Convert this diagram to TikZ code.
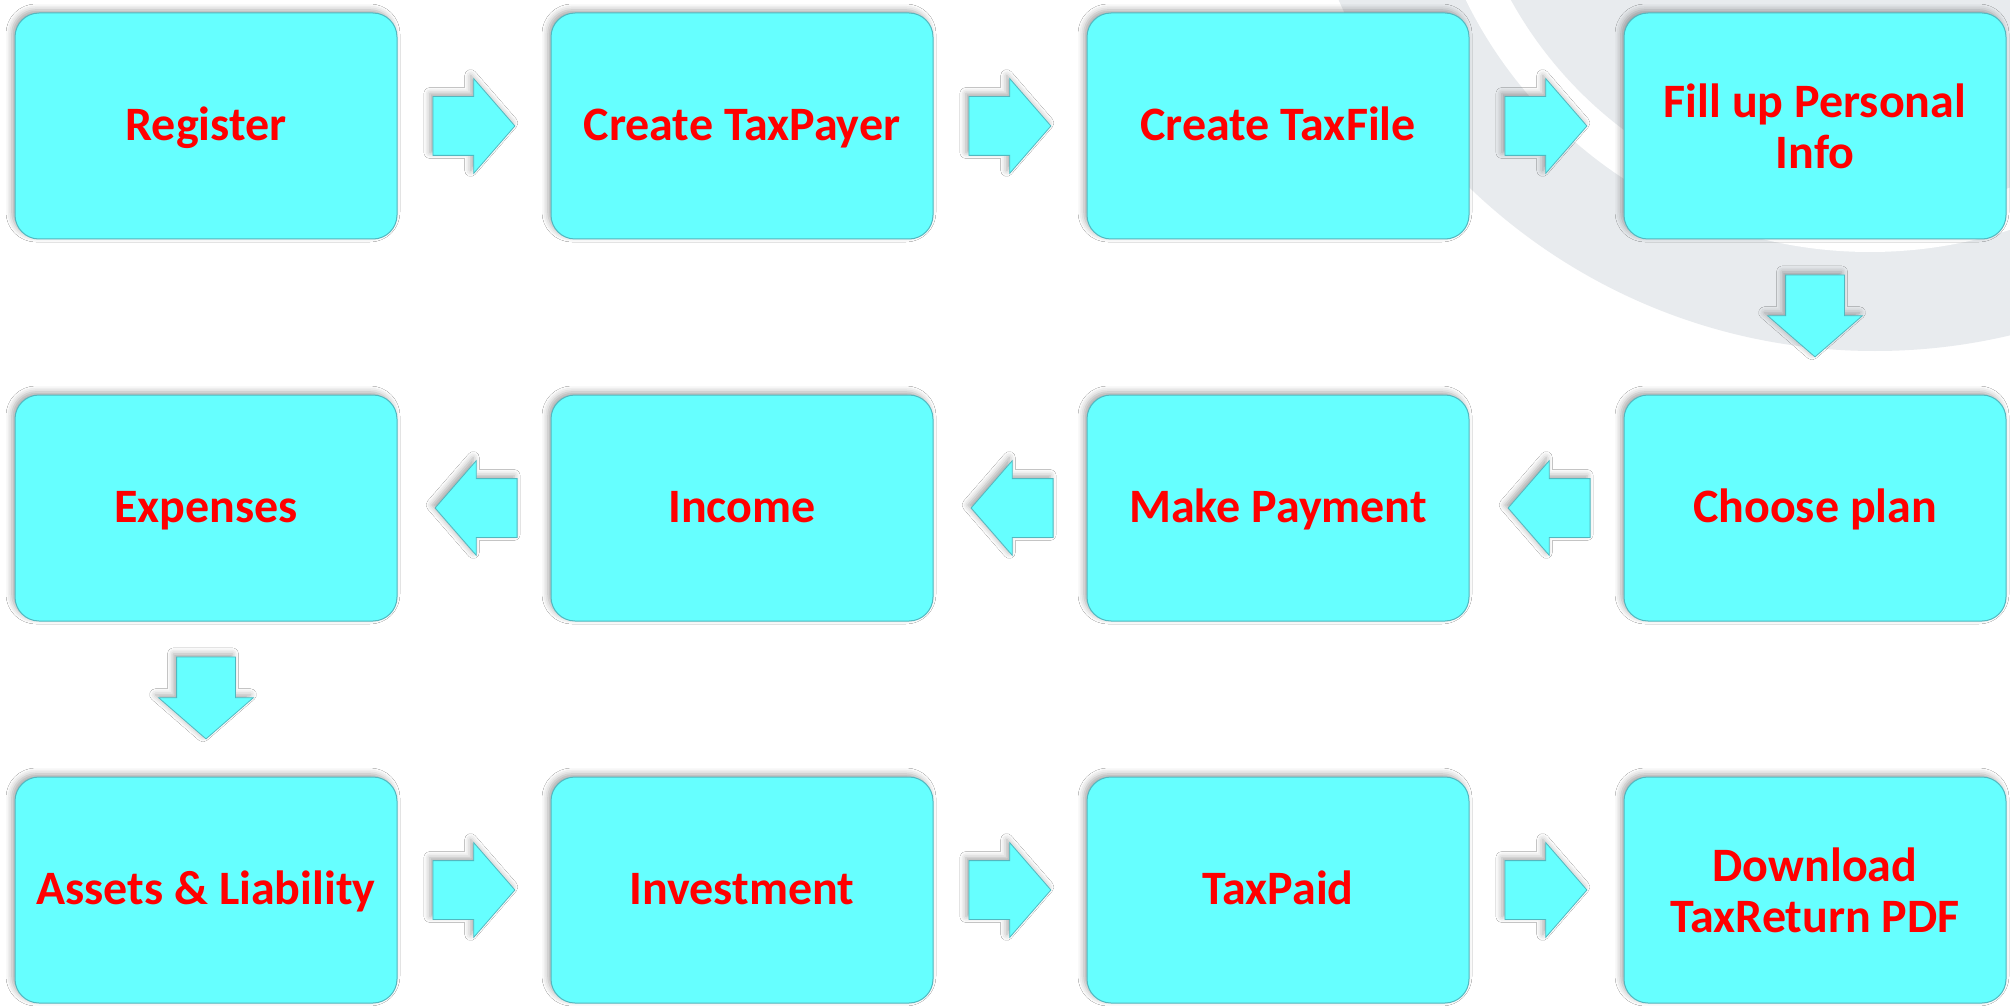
\documentclass[tikz,border=0pt]{standalone}
\usepackage{fontspec}
\setmainfont{Carlito}
\usetikzlibrary{shapes.arrows,shadows.blur,calc}
\definecolor{boxcyan}{HTML}{66FFFF}
\definecolor{boxline}{HTML}{52B8C0}
\definecolor{ringgrey}{HTML}{E8EBEE}
\definecolor{labelred}{HTML}{FF0000}
\tikzset{
  stepbox/.style={rectangle, rounded corners=12pt, fill=boxcyan, draw=boxline,
    line width=0.5pt, minimum width=191pt, minimum height=113pt, inner sep=0pt,
    align=center, text=labelred, font=\fontsize{24}{25.5}\selectfont\bfseries,
    blur shadow={shadow xshift=-1.5pt, shadow yshift=1.5pt, shadow blur radius=3pt, shadow opacity=35}},
  oneline/.style={text height=18pt, text depth=3.5pt},
  blockarrow/.style={single arrow, single arrow tip angle=98, single arrow head extend=9pt,
    minimum height=41pt, inner xsep=0pt, inner ysep=14.5pt, fill=boxcyan, draw=boxline,
    line width=0.4pt, anchor=tail,
    blur shadow={shadow xshift=-1.5pt, shadow yshift=1.5pt, shadow blur radius=3pt, shadow opacity=35}},
}
\begin{document}
\begin{tikzpicture}[x=0.5pt,y=-0.5pt]
\useasboundingbox (0,0) rectangle (2010,1006);
\fill[white] (0,0) rectangle (2010,1006);
% background ring
\begin{scope}
  \clip (0,0) rectangle (2010,1006);
  \fill[ringgrey] (1875,-234) circle[radius=292.5pt];
  \fill[white] (1870,-198) circle[radius=225pt];
  \fill[ringgrey] (1870,-198) circle[radius=205pt];
\end{scope}
% row 1
\node[stepbox, oneline] (b1) at (206,126) {Register};
\node[stepbox, oneline] (b2) at (742,126) {Create TaxPayer};
\node[stepbox, oneline] (b3) at (1278,126) {Create TaxFile};
\node[stepbox] (b4) at (1815,126) {Fill up Personal\\Info};
% row 2
\node[stepbox, oneline] (b5) at (1815,508) {Choose plan};
\node[stepbox, oneline] (b6) at (1278,508) {Make Payment};
\node[stepbox, oneline] (b7) at (742,508) {Income};
\node[stepbox, oneline] (b8) at (206,508) {Expenses};
% row 3
\node[stepbox, oneline] (b9) at (206,890) {Assets \& Liability};
\node[stepbox, oneline] (b10) at (742,890) {Investment};
\node[stepbox, oneline] (b11) at (1278,890) {TaxPaid};
\node[stepbox] (b12) at (1815,890) {Download\\TaxReturn PDF};
% arrows
\node[blockarrow] (a1) at ($(b1.east)+(35,0)$) {};
\node[blockarrow] (a2) at ($(b2.east)+(35,0)$) {};
\node[blockarrow] (a3) at ($(b3.east)+(35,0)$) {};
\node[blockarrow, rotate=-90] (a4) at ($(b4.south)+(0,35)$) {};
\node[blockarrow, rotate=180] (a5) at ($(b5.west)+(-33,0)$) {};
\node[blockarrow, rotate=180] (a6) at ($(b6.west)+(-33,0)$) {};
\node[blockarrow, rotate=180] (a7) at ($(b7.west)+(-33,0)$) {};
\node[blockarrow, rotate=-90] (a8) at ($(b8.south)+(0,35)$) {};
\node[blockarrow] (a9) at ($(b9.east)+(35,0)$) {};
\node[blockarrow] (a10) at ($(b10.east)+(35,0)$) {};
\node[blockarrow] (a11) at ($(b11.east)+(35,0)$) {};
\end{tikzpicture}
\end{document}
